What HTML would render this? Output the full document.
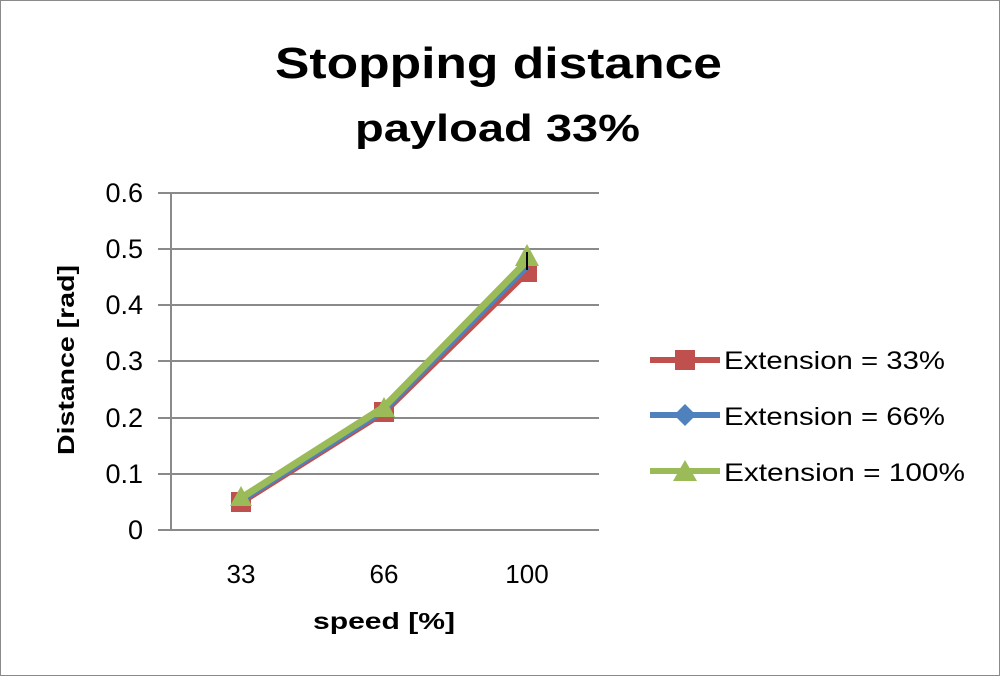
<!DOCTYPE html>
<html><head><style>
body{margin:0;background:#fff}
svg{display:block}
text{font-family:"Liberation Sans",sans-serif;fill:#000}
</style></head><body>
<svg width="1000" height="676" viewBox="0 0 1000 676">
<rect x="0.5" y="0.5" width="999" height="675" fill="#fff" stroke="#8a8a8a"/>
<text x="275" y="78" font-size="44" font-weight="bold" textLength="447" lengthAdjust="spacingAndGlyphs">Stopping distance</text>
<text x="355" y="141" font-size="38" font-weight="bold" textLength="285" lengthAdjust="spacingAndGlyphs">payload 33%</text>
<g stroke="#8a8a8a" stroke-width="2">
<line x1="158" y1="193" x2="599" y2="193"/>
<line x1="158" y1="249" x2="599" y2="249"/>
<line x1="158" y1="305" x2="599" y2="305"/>
<line x1="158" y1="361" x2="599" y2="361"/>
<line x1="158" y1="418" x2="599" y2="418"/>
<line x1="158" y1="474" x2="599" y2="474"/>
<line x1="158" y1="530" x2="599" y2="530"/>
<line x1="171" y1="193" x2="171" y2="530"/>
</g>
<g font-size="27" text-anchor="end">
<text x="143" y="202">0.6</text><text x="143" y="258">0.5</text><text x="143" y="314">0.4</text>
<text x="143" y="370">0.3</text><text x="143" y="427">0.2</text><text x="143" y="483">0.1</text><text x="143" y="539">0</text>
</g>
<g font-size="26" text-anchor="middle">
<text x="241" y="583">33</text><text x="384" y="583">66</text><text x="527" y="583">100</text>
</g>
<text x="313" y="629" font-size="23" font-weight="bold" textLength="142" lengthAdjust="spacingAndGlyphs">speed [%]</text>
<text transform="translate(74,455) rotate(-90)" font-size="23" font-weight="bold" textLength="190" lengthAdjust="spacingAndGlyphs">Distance [rad]</text>
<polyline points="241,502 384,412 527,272" fill="none" stroke="#c0504d" stroke-width="7"/>
<rect x="231" y="492" width="20" height="20" fill="#c0504d"/><rect x="374" y="402" width="20" height="20" fill="#c0504d"/><rect x="517" y="262" width="20" height="20" fill="#c0504d"/>
<polyline points="241,500 384,410 527,266" fill="none" stroke="#4f81bd" stroke-width="7"/>
<polyline points="241,498 384,407 527,261" fill="none" stroke="#9bbb59" stroke-width="7"/>
<polygon points="241,486 252,506 230,506" fill="#9bbb59"/><polygon points="384,397 395,417 373,417" fill="#9bbb59"/><polygon points="527,244 539,266 515,266" fill="#9bbb59"/>
<line x1="527" y1="252" x2="527" y2="270" stroke="#000" stroke-width="2"/>
<line x1="650" y1="360" x2="720" y2="360" stroke="#c0504d" stroke-width="6"/><rect x="675" y="350" width="20" height="20" fill="#c0504d"/>
<line x1="650" y1="415" x2="720" y2="415" stroke="#4f81bd" stroke-width="6"/><polygon points="685,404 696,415 685,426 674,415" fill="#4f81bd"/>
<line x1="650" y1="471" x2="720" y2="471" stroke="#9bbb59" stroke-width="6"/><polygon points="685,460 697,481 673,481" fill="#9bbb59"/>
<g font-size="25">
<text x="724" y="369" textLength="221" lengthAdjust="spacingAndGlyphs">Extension = 33%</text>
<text x="724" y="425" textLength="221" lengthAdjust="spacingAndGlyphs">Extension = 66%</text>
<text x="724" y="481" textLength="241" lengthAdjust="spacingAndGlyphs">Extension = 100%</text>
</g>
</svg>
</body></html>
